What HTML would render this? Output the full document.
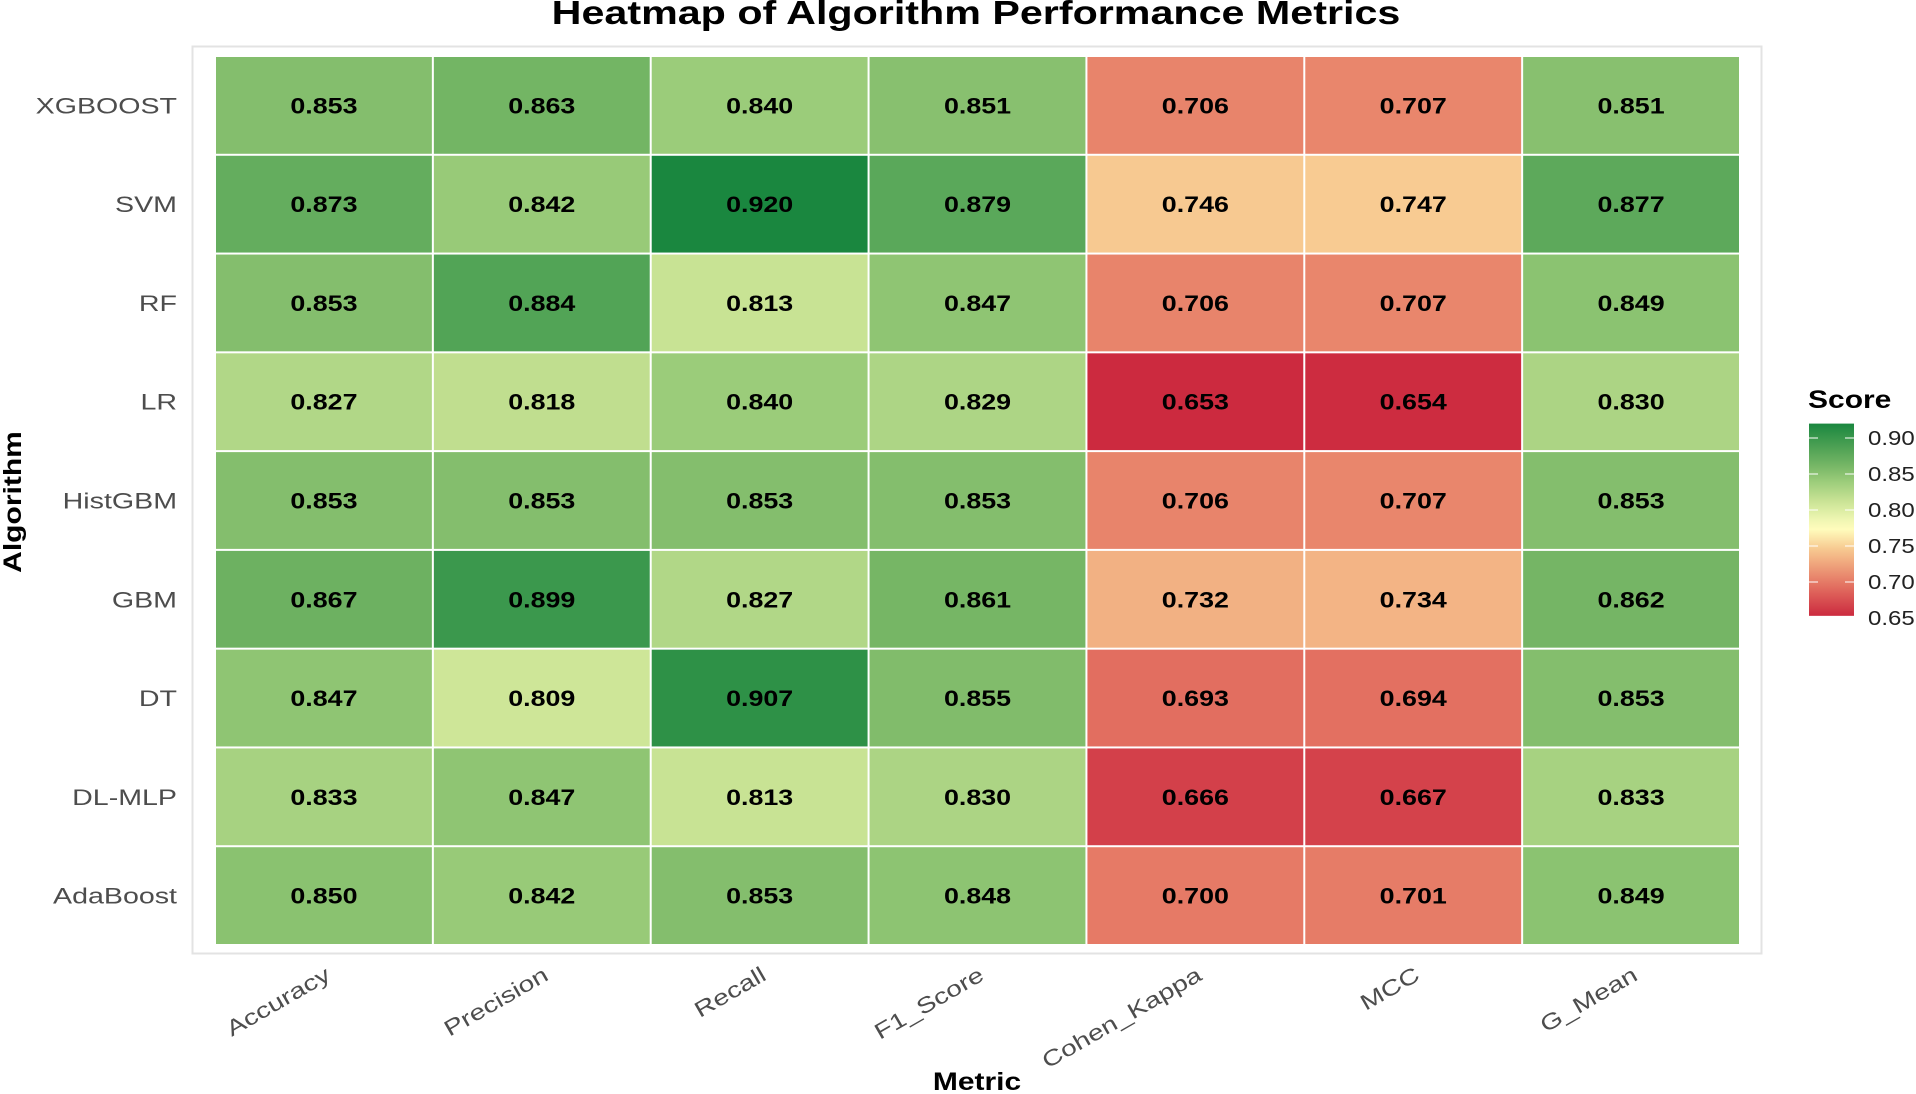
<!DOCTYPE html>
<html><head><meta charset="utf-8"><style>
html,body{margin:0;padding:0;background:#fff;}
svg{display:block;font-family:"Liberation Sans",sans-serif;}
</style></head><body>
<svg id="chart" width="1916" height="1094" viewBox="0 0 1916 1094">
<text transform="translate(976,24) scale(1.25,1)" text-anchor="middle" font-size="33" font-weight="bold" fill="#000">Heatmap of Algorithm Performance Metrics</text>
<rect x="192.5" y="46.5" width="1569" height="907" fill="#fff" stroke="#e3e3e3" stroke-width="2"/>
<g id="tiles"></g>
<g id="ylabels"></g>
<g id="xlabels"></g>
<text transform="translate(21,502) rotate(-90) scale(1.2,1)" text-anchor="middle" font-size="25" font-weight="bold">Algorithm</text>
<text transform="translate(977,1090) scale(1.2,1)" text-anchor="middle" font-size="25" font-weight="bold">Metric</text>
<g>
<text transform="translate(1808,408) scale(1.2,1)" font-size="25" font-weight="bold">Score</text>
<defs><linearGradient id="lg" x1="0" y1="1" x2="0" y2="0"></linearGradient></defs>
<rect id="cbar" x="1809" width="45" fill="url(#lg)"/>
<g id="cticks"></g>
</g>
</svg>
<script>
const algorithms = ["XGBOOST","SVM","RF","LR","HistGBM","GBM","DT","DL-MLP","AdaBoost"];
const metrics = ["Accuracy","Precision","Recall","F1_Score","Cohen_Kappa","MCC","G_Mean"];
const accuracy   = [0.853,0.873,0.853,0.827,0.853,0.867,0.847,0.833,0.850];
const precision  = [0.863,0.842,0.884,0.818,0.853,0.899,0.809,0.847,0.842];
const recall     = [0.840,0.920,0.813,0.840,0.853,0.827,0.907,0.813,0.853];
const f1Score    = [0.851,0.879,0.847,0.829,0.853,0.861,0.855,0.830,0.848];
const cohenKappa = [0.706,0.746,0.706,0.653,0.706,0.732,0.693,0.666,0.700];
const mcc        = [0.707,0.747,0.707,0.654,0.707,0.734,0.694,0.667,0.701];
const gMean      = [0.851,0.877,0.849,0.830,0.853,0.862,0.853,0.833,0.849];
const legendTicks = [0.65,0.70,0.75,0.80,0.85,0.90];

const series=[accuracy,precision,recall,f1Score,cohenKappa,mcc,gMean];
const NS="http://www.w3.org/2000/svg";
const X0=215, X1=1740, Y0=56, Y1=945;
const cw=(X1-X0)/metrics.length, rh=(Y1-Y0)/algorithms.length;
const xPos=i=>X0+i*cw, yPos=j=>Y0+j*rh;
const all=series.flat(); const vmin=Math.min(...all), vmax=Math.max(...all);
const stops=[[0.653,[204,42,63]],[0.70,[230,122,102]],[0.745,[247,199,143]],[0.775,[255,255,191]],[0.81,[205,229,151]],[0.84,[155,204,122]],[0.86,[120,183,102]],[0.92,[26,135,63]]];
function col(v){
 const u=0.653+(v-vmin)/(vmax-vmin)*(0.92-0.653);
 if(u<=stops[0][0])return `rgb(${stops[0][1]})`;
 for(let k=1;k<stops.length;k++){if(u<=stops[k][0]){const a=stops[k-1],b=stops[k];const f=(u-a[0])/(b[0]-a[0]);
 return `rgb(${a[1].map((c,i)=>Math.round(c+(b[1][i]-c)*f)).join(',')})`;}}
 return `rgb(${stops[stops.length-1][1]})`;
}
const tiles=document.getElementById('tiles');
series.forEach((s,i)=>s.forEach((v,j)=>{
 const r=document.createElementNS(NS,'rect');
 r.setAttribute('x',xPos(i)+1);r.setAttribute('y',yPos(j)+1);r.setAttribute('width',cw-2);r.setAttribute('height',rh-2);r.setAttribute('fill',col(v));
 
 
 tiles.appendChild(r);
 const t=document.createElementNS(NS,'text');
 t.setAttribute('transform',`translate(${xPos(i)+cw/2},${yPos(j)+rh/2+8}) scale(1.22,1)`);t.setAttribute('text-anchor','middle');t.setAttribute('font-size','22');t.setAttribute('font-weight','bold');
 t.textContent=v.toFixed(3);
 
 
 tiles.appendChild(t);
}));
const yl=document.getElementById('ylabels');
algorithms.forEach((a,j)=>{const t=document.createElementNS(NS,'text');
 t.setAttribute('transform',`translate(177,${yPos(j)+rh/2+8}) scale(1.3,1)`);t.setAttribute('text-anchor','end');t.setAttribute('font-size','22');t.setAttribute('fill','#4d4d4d');t.textContent=a;
 
 
 yl.appendChild(t);});
const xl=document.getElementById('xlabels');
metrics.forEach((m,i)=>{const t=document.createElementNS(NS,'text');
 const cx=xPos(i)+cw/2+8, cy=979;
 t.setAttribute('transform',`translate(${cx},${cy}) rotate(-30) scale(1.28,1)`);t.setAttribute('text-anchor','end');t.setAttribute('font-size','22');t.setAttribute('fill','#4d4d4d');t.textContent=m;
 
 
 xl.appendChild(t);});
const ly=v=>438+(0.90-v)*720;
const cb=document.getElementById('cbar');cb.setAttribute('y',ly(0.92));cb.setAttribute('height',ly(0.653)-ly(0.92));
const lg=document.getElementById('lg');
for(let k=0;k<=20;k++){const v=0.653+k*(0.92-0.653)/20;const s=document.createElementNS(NS,'stop');s.setAttribute('offset',k/20);s.setAttribute('stop-color',col(vmin+(v-0.653)/(0.92-0.653)*(vmax-vmin)));lg.appendChild(s);}
const ct=document.getElementById('cticks');
legendTicks.forEach(v=>{const y=ly(v);
 [[1809,1818],[1845,1854]].forEach(p=>{const l=document.createElementNS(NS,'line');l.setAttribute('x1',p[0]);l.setAttribute('x2',p[1]);l.setAttribute('y1',y);l.setAttribute('y2',y);l.setAttribute('stroke','#fff');l.setAttribute('stroke-width','1');
 
 
 ct.appendChild(l);});
 const t=document.createElementNS(NS,'text');t.setAttribute('transform',`translate(1868,${y+7}) scale(1.2,1)`);t.setAttribute('font-size','20');t.setAttribute('fill','#222');t.textContent=v.toFixed(2);
 
 
 ct.appendChild(t);});
</script>
</body></html>
